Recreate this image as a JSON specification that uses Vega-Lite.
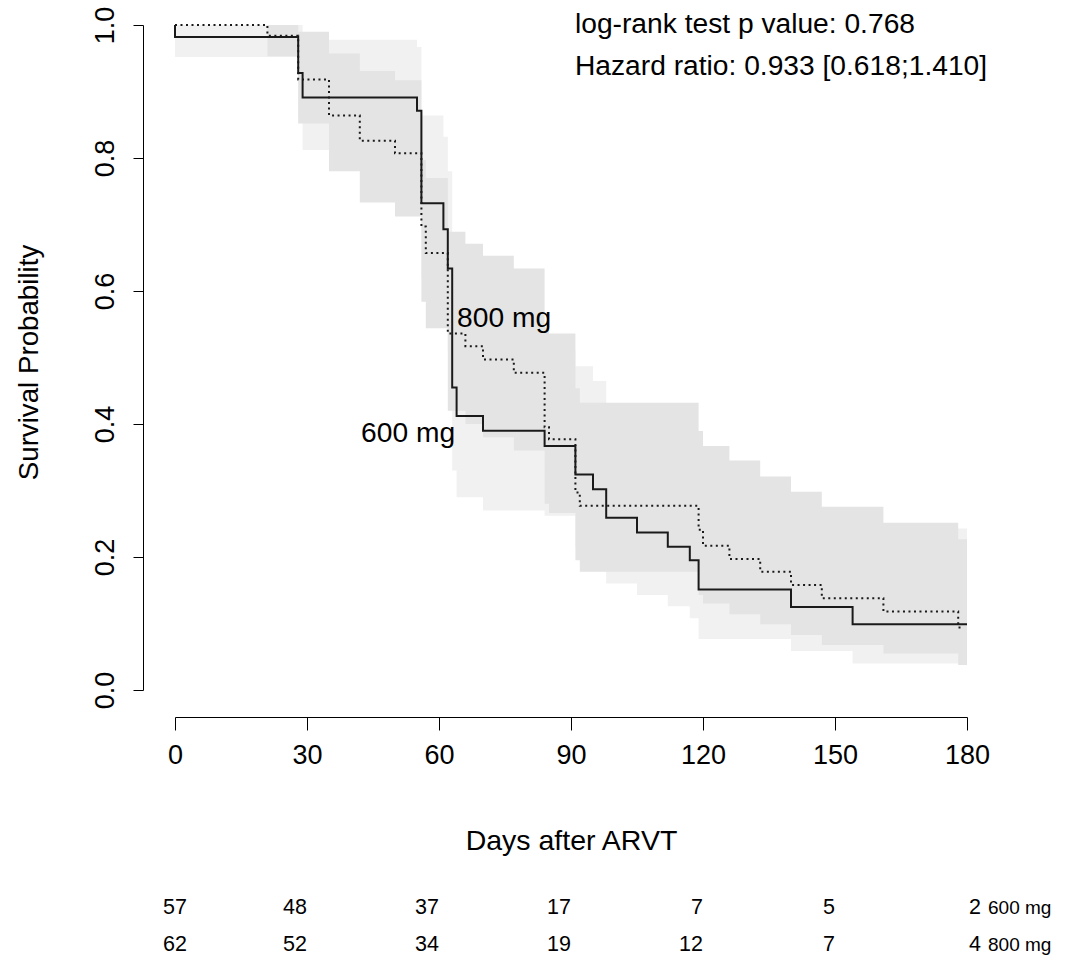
{
  "$schema": "https://vega.github.io/schema/vega-lite/v6.json",
  "width": 792,
  "height": 665,
  "autosize": {"type": "none"},
  "padding": {"left": 175, "top": 25, "right": 102, "bottom": 267},
  "background": "white",
  "config": {
    "font": "Liberation Sans",
    "view": {"stroke": null},
    "axis": {"grid": false, "domainColor": "black", "tickColor": "black", "labelColor": "black", "titleColor": "black", "titleFontWeight": "normal", "domainWidth": 1, "tickWidth": 1}
  },
  "datasets": {
    "curve": [
      {"group": "600 mg", "i": 0, "day": 0, "surv": 1.0},
      {"group": "600 mg", "i": 1, "day": 0, "surv": 0.982},
      {"group": "600 mg", "i": 2, "day": 28, "surv": 0.928},
      {"group": "600 mg", "i": 3, "day": 29, "surv": 0.891},
      {"group": "600 mg", "i": 4, "day": 55, "surv": 0.871},
      {"group": "600 mg", "i": 5, "day": 56, "surv": 0.732},
      {"group": "600 mg", "i": 6, "day": 61, "surv": 0.693},
      {"group": "600 mg", "i": 7, "day": 62, "surv": 0.634},
      {"group": "600 mg", "i": 8, "day": 63, "surv": 0.455},
      {"group": "600 mg", "i": 9, "day": 64, "surv": 0.412},
      {"group": "600 mg", "i": 10, "day": 70, "surv": 0.390},
      {"group": "600 mg", "i": 11, "day": 84, "surv": 0.367},
      {"group": "600 mg", "i": 12, "day": 91, "surv": 0.324},
      {"group": "600 mg", "i": 13, "day": 95, "surv": 0.302},
      {"group": "600 mg", "i": 14, "day": 98, "surv": 0.259},
      {"group": "600 mg", "i": 15, "day": 105, "surv": 0.237},
      {"group": "600 mg", "i": 16, "day": 112, "surv": 0.2155},
      {"group": "600 mg", "i": 17, "day": 117, "surv": 0.195},
      {"group": "600 mg", "i": 18, "day": 119, "surv": 0.151},
      {"group": "600 mg", "i": 19, "day": 140, "surv": 0.125},
      {"group": "600 mg", "i": 20, "day": 154, "surv": 0.099},
      {"group": "600 mg", "i": 21, "day": 180, "surv": 0.099},
      {"group": "800 mg", "i": 0, "day": 0, "surv": 1.0},
      {"group": "800 mg", "i": 1, "day": 21, "surv": 0.984},
      {"group": "800 mg", "i": 2, "day": 28, "surv": 0.918},
      {"group": "800 mg", "i": 3, "day": 35, "surv": 0.864},
      {"group": "800 mg", "i": 4, "day": 42, "surv": 0.826},
      {"group": "800 mg", "i": 5, "day": 50, "surv": 0.807},
      {"group": "800 mg", "i": 6, "day": 56, "surv": 0.697},
      {"group": "800 mg", "i": 7, "day": 57, "surv": 0.657},
      {"group": "800 mg", "i": 8, "day": 62, "surv": 0.536},
      {"group": "800 mg", "i": 9, "day": 66, "surv": 0.517},
      {"group": "800 mg", "i": 10, "day": 70, "surv": 0.497},
      {"group": "800 mg", "i": 11, "day": 77, "surv": 0.477},
      {"group": "800 mg", "i": 12, "day": 84, "surv": 0.395},
      {"group": "800 mg", "i": 13, "day": 85, "surv": 0.377},
      {"group": "800 mg", "i": 14, "day": 91, "surv": 0.297},
      {"group": "800 mg", "i": 15, "day": 92, "surv": 0.277},
      {"group": "800 mg", "i": 16, "day": 119, "surv": 0.241},
      {"group": "800 mg", "i": 17, "day": 120, "surv": 0.217},
      {"group": "800 mg", "i": 18, "day": 126, "surv": 0.197},
      {"group": "800 mg", "i": 19, "day": 133, "surv": 0.178},
      {"group": "800 mg", "i": 20, "day": 140, "surv": 0.158},
      {"group": "800 mg", "i": 21, "day": 147, "surv": 0.138},
      {"group": "800 mg", "i": 22, "day": 161, "surv": 0.118},
      {"group": "800 mg", "i": 23, "day": 178, "surv": 0.094},
      {"group": "800 mg", "i": 24, "day": 179, "surv": 0.094}
    ],
    "band": [
      {"group": "600 mg", "day": 0, "lo": 0.952, "hi": 1.0},
      {"group": "600 mg", "day": 28, "lo": 0.86, "hi": 1.0},
      {"group": "600 mg", "day": 29, "lo": 0.812, "hi": 0.978},
      {"group": "600 mg", "day": 55, "lo": 0.78, "hi": 0.967},
      {"group": "600 mg", "day": 56, "lo": 0.62, "hi": 0.864},
      {"group": "600 mg", "day": 61, "lo": 0.575, "hi": 0.832},
      {"group": "600 mg", "day": 62, "lo": 0.51, "hi": 0.78},
      {"group": "600 mg", "day": 63, "lo": 0.33, "hi": 0.6},
      {"group": "600 mg", "day": 64, "lo": 0.29, "hi": 0.56},
      {"group": "600 mg", "day": 70, "lo": 0.27, "hi": 0.535},
      {"group": "600 mg", "day": 84, "lo": 0.262, "hi": 0.51},
      {"group": "600 mg", "day": 91, "lo": 0.215, "hi": 0.487},
      {"group": "600 mg", "day": 95, "lo": 0.195, "hi": 0.4647},
      {"group": "600 mg", "day": 98, "lo": 0.16, "hi": 0.42},
      {"group": "600 mg", "day": 105, "lo": 0.143, "hi": 0.395},
      {"group": "600 mg", "day": 112, "lo": 0.126, "hi": 0.37},
      {"group": "600 mg", "day": 117, "lo": 0.108, "hi": 0.35},
      {"group": "600 mg", "day": 119, "lo": 0.0767, "hi": 0.3},
      {"group": "600 mg", "day": 140, "lo": 0.0586, "hi": 0.27},
      {"group": "600 mg", "day": 154, "lo": 0.04, "hi": 0.243},
      {"group": "600 mg", "day": 180, "lo": 0.04, "hi": 0.243},
      {"group": "800 mg", "day": 0, "lo": 1.0, "hi": 1.0},
      {"group": "800 mg", "day": 21, "lo": 0.953, "hi": 1.0},
      {"group": "800 mg", "day": 28, "lo": 0.852, "hi": 0.99},
      {"group": "800 mg", "day": 35, "lo": 0.78, "hi": 0.957},
      {"group": "800 mg", "day": 42, "lo": 0.733, "hi": 0.931},
      {"group": "800 mg", "day": 50, "lo": 0.712, "hi": 0.917},
      {"group": "800 mg", "day": 56, "lo": 0.584, "hi": 0.797},
      {"group": "800 mg", "day": 57, "lo": 0.544, "hi": 0.77},
      {"group": "800 mg", "day": 62, "lo": 0.42, "hi": 0.689},
      {"group": "800 mg", "day": 66, "lo": 0.4, "hi": 0.671},
      {"group": "800 mg", "day": 70, "lo": 0.38, "hi": 0.653},
      {"group": "800 mg", "day": 77, "lo": 0.36, "hi": 0.634},
      {"group": "800 mg", "day": 84, "lo": 0.28, "hi": 0.545},
      {"group": "800 mg", "day": 85, "lo": 0.266, "hi": 0.536},
      {"group": "800 mg", "day": 91, "lo": 0.195, "hi": 0.4537},
      {"group": "800 mg", "day": 92, "lo": 0.178, "hi": 0.432},
      {"group": "800 mg", "day": 119, "lo": 0.143, "hi": 0.3895},
      {"group": "800 mg", "day": 120, "lo": 0.13, "hi": 0.367},
      {"group": "800 mg", "day": 126, "lo": 0.114, "hi": 0.345},
      {"group": "800 mg", "day": 133, "lo": 0.0988, "hi": 0.321},
      {"group": "800 mg", "day": 140, "lo": 0.0827, "hi": 0.298},
      {"group": "800 mg", "day": 147, "lo": 0.0677, "hi": 0.2757},
      {"group": "800 mg", "day": 161, "lo": 0.055, "hi": 0.2516},
      {"group": "800 mg", "day": 178, "lo": 0.0376, "hi": 0.2266},
      {"group": "800 mg", "day": 180, "lo": 0.0376, "hi": 0.2266}
    ],
    "notes": [
      {"label": "log-rank test p value: 0.768", "day": 90.9, "surv": 0.988},
      {"label": "Hazard ratio: 0.933 [0.618;1.410]", "day": 90.9, "surv": 0.925},
      {"label": "800 mg", "day": 64.1, "surv": 0.546},
      {"label": "600 mg", "day": 42.3, "surv": 0.373}
    ],
    "risk": [
      {"group": "600 mg", "day": 0, "n": 57},
      {"group": "600 mg", "day": 30, "n": 48},
      {"group": "600 mg", "day": 60, "n": 37},
      {"group": "600 mg", "day": 90, "n": 17},
      {"group": "600 mg", "day": 120, "n": 7},
      {"group": "600 mg", "day": 150, "n": 5},
      {"group": "600 mg", "day": 180, "n": 2},
      {"group": "800 mg", "day": 0, "n": 62},
      {"group": "800 mg", "day": 30, "n": 52},
      {"group": "800 mg", "day": 60, "n": 34},
      {"group": "800 mg", "day": 90, "n": 19},
      {"group": "800 mg", "day": 120, "n": 12},
      {"group": "800 mg", "day": 150, "n": 7},
      {"group": "800 mg", "day": 180, "n": 4}
    ]
  },
  "layer": [
    {
      "layer": [
        {
          "data": {"name": "band"},
          "transform": [{"filter": "datum.group === '600 mg'"}],
          "mark": {"type": "area", "interpolate": "step-after", "color": "#f1f1f1", "opacity": 1},
          "encoding": {
            "x": {"field": "day", "type": "quantitative", "scale": {"domain": [0, 180], "nice": false, "zero": false},
              "axis": {"offset": 27, "values": [0, 30, 60, 90, 120, 150, 180], "tickSize": 13, "labelFontSize": 27, "labelPadding": 12, "labelFlush": false, "title": "Days after ARVT", "titleFontSize": 28.5, "titleY": 132, "titleBaseline": "alphabetic"}},
            "y": {"field": "lo", "type": "quantitative", "scale": {"domain": [0, 1], "nice": false, "zero": false},
              "axis": {"offset": 32, "values": [0, 0.2, 0.4, 0.6, 0.8, 1], "format": ".1f", "tickSize": 10, "labelFontSize": 27, "labelAngle": -90, "labelAlign": "center", "labelBaseline": "alphabetic", "labelPadding": 20, "title": "Survival Probability", "titleFontSize": 27.7, "titleAngle": -90, "titleX": -106, "titleY": 337, "titleAlign": "center", "titleBaseline": "alphabetic"}},
            "y2": {"field": "hi"}
          }
        },
        {
          "data": {"name": "band"},
          "transform": [{"filter": "datum.group === '800 mg'"}],
          "mark": {"type": "area", "interpolate": "step-after", "color": "#e4e4e4", "opacity": 1},
          "encoding": {
            "x": {"field": "day", "type": "quantitative"},
            "y": {"field": "lo", "type": "quantitative"},
            "y2": {"field": "hi"}
          }
        },
        {
          "data": {"name": "curve"},
          "mark": {"type": "line", "interpolate": "step-after", "color": "#1a1a1a", "strokeWidth": 2},
          "encoding": {
            "x": {"field": "day", "type": "quantitative"},
            "y": {"field": "surv", "type": "quantitative"},
            "order": {"field": "i", "type": "quantitative"},
            "detail": {"field": "group"},
            "strokeDash": {"field": "group", "type": "nominal", "scale": {"domain": ["600 mg", "800 mg"], "range": [[1, 0], [2, 3.5]]}, "legend": null}
          }
        },
        {
          "data": {"name": "notes"},
          "mark": {"type": "text", "align": "left", "baseline": "alphabetic", "fontSize": 28.2, "color": "black"},
          "encoding": {
            "x": {"field": "day", "type": "quantitative"},
            "y": {"field": "surv", "type": "quantitative"},
            "text": {"field": "label"}
          }
        }
      ]
    },
    {
      "data": {"name": "risk"},
      "encoding": {
        "x": {"field": "day", "type": "quantitative"},
        "y": {"field": "group", "type": "nominal", "scale": {"domain": ["600 mg", "800 mg"], "range": [883, 920], "padding": 0}, "axis": null}
      },
      "layer": [
        {
          "transform": [{"filter": "datum.day === 0"}],
          "mark": {"type": "text", "align": "center", "baseline": "middle", "fontSize": 21.5, "color": "black"},
          "encoding": {"text": {"field": "n"}}
        },
        {
          "transform": [{"filter": "datum.day > 0 && datum.day < 180"}],
          "mark": {"type": "text", "align": "right", "baseline": "middle", "fontSize": 21.5, "color": "black"},
          "encoding": {"text": {"field": "n"}}
        },
        {
          "transform": [{"filter": "datum.day === 180"}],
          "mark": {"type": "text", "align": "left", "baseline": "middle", "fontSize": 21.5, "dx": 2, "color": "black"},
          "encoding": {"text": {"field": "n"}}
        },
        {
          "transform": [{"filter": "datum.day === 180"}],
          "mark": {"type": "text", "align": "left", "baseline": "middle", "fontSize": 19, "dx": 21, "color": "black"},
          "encoding": {"text": {"field": "group"}}
        }
      ]
    }
  ],
  "resolve": {"scale": {"y": "independent"}}
}
